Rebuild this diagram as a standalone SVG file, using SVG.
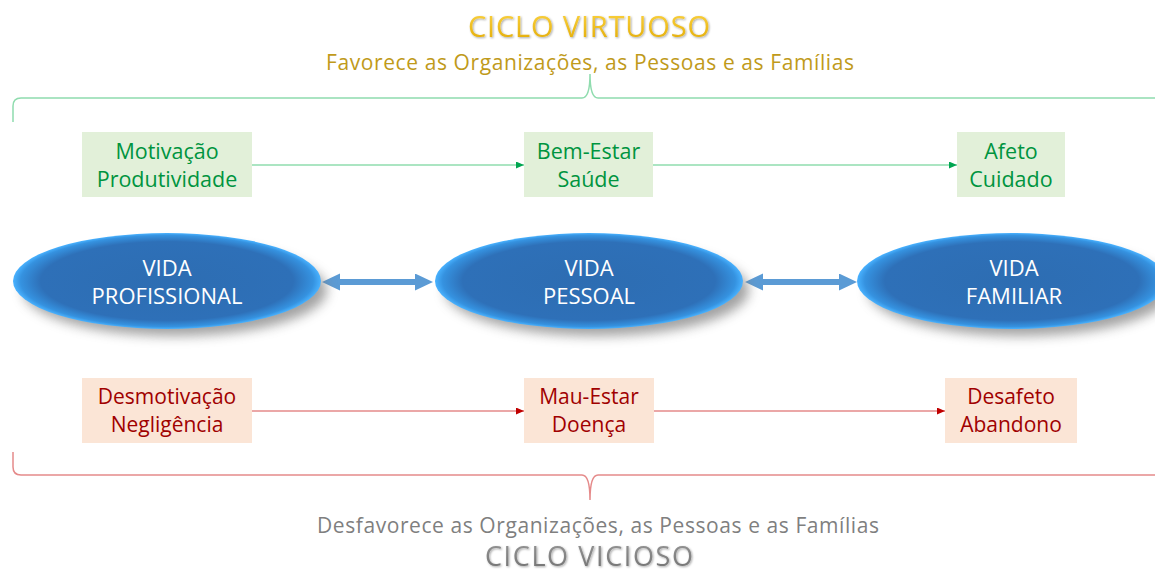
<svg xmlns="http://www.w3.org/2000/svg" width="1155" height="575" viewBox="0 0 1155 575">
<style>
  text { font-family: "Open Sans", "Noto Sans", "DejaVu Sans", sans-serif; text-anchor: middle; }
  .gbox { fill: #e2f0d9; }
  .rbox { fill: #fbe5d6; }
  .gtxt { fill: #00943f; font-size: 21.5px; }
  .rtxt { fill: #a00000; font-size: 21px; }
  .etxt { fill: #ffffff; font-size: 22px; }
  .gline { stroke: #8fdcae; stroke-width: 1.5; fill: none; }
  .rline { stroke: #e58a8a; stroke-width: 1.5; fill: none; }
  .bline { stroke: #5b9bd5; stroke-width: 6; fill: none; }
  .ell { fill: url(#ellGrad); }
  .shadow { fill: #7a7a7a; opacity: 0.7; filter: url(#blur); }
</style>
<defs>
  <radialGradient id="ellGrad" cx="0.5" cy="0.5" r="0.5">
    <stop offset="0" stop-color="#2d6db2"/>
    <stop offset="0.82" stop-color="#2e70b8"/>
    <stop offset="0.95" stop-color="#3592e0"/>
    <stop offset="1" stop-color="#49b2ff"/>
  </radialGradient>
  <linearGradient id="goldGrad" x1="0" y1="0" x2="0" y2="1">
    <stop offset="0" stop-color="#ffd84a"/>
    <stop offset="1" stop-color="#e0a800"/>
  </linearGradient>
  <linearGradient id="grayGrad" x1="0" y1="0" x2="0" y2="1">
    <stop offset="0" stop-color="#9a9a9a"/>
    <stop offset="1" stop-color="#6f6f6f"/>
  </linearGradient>
  <filter id="blur" x="-20%" y="-40%" width="140%" height="180%">
    <feGaussianBlur stdDeviation="6"/>
  </filter>
  <filter id="tshadow" x="-10%" y="-30%" width="120%" height="160%">
    <feGaussianBlur in="SourceAlpha" stdDeviation="1"/>
    <feOffset dx="0.8" dy="1" result="b"/>
    <feFlood flood-color="#000" flood-opacity="0.35"/>
    <feComposite in2="b" operator="in"/>
    <feMerge><feMergeNode/><feMergeNode in="SourceGraphic"/></feMerge>
  </filter>
  <marker id="gArrow" markerUnits="userSpaceOnUse" markerWidth="9" markerHeight="8" refX="8" refY="3.5" orient="auto">
    <path d="M0,0 L8,3.5 L0,7 Z" fill="#00a651"/>
  </marker>
  <marker id="rArrow" markerUnits="userSpaceOnUse" markerWidth="9" markerHeight="8" refX="8" refY="3.5" orient="auto">
    <path d="M0,0 L8,3.5 L0,7 Z" fill="#c00000"/>
  </marker>
  <marker id="bArrow" markerUnits="userSpaceOnUse" markerWidth="19" markerHeight="18" refX="0" refY="8.5" orient="auto-start-reverse">
    <path d="M0,0 L18,8.5 L0,17 Z" fill="#5b9bd5"/>
  </marker>
</defs>

<g id="titles">
  <text x="589" y="37" font-size="29" fill="url(#goldGrad)" filter="url(#tshadow)" textLength="242">CICLO VIRTUOSO</text>
  <text x="590" y="70" font-size="21" fill="#c09a1a" textLength="528">Favorece as Organizações, as Pessoas e as Famílias</text>
  <text x="598" y="533" font-size="21" fill="#7f7f7f" textLength="562">Desfavorece as Organizações, as Pessoas e as Famílias</text>
  <text x="589" y="566" font-size="27" fill="url(#grayGrad)" filter="url(#tshadow)" textLength="208">CICLO VICIOSO</text>
</g>

<g id="braces">
  <path class="gline" d="M13,122 L13,106 Q13,98 21,98 L582,98 Q590,98 590,74 Q590,98 598,98 L1155,98"/>
  <path class="rline" d="M13,452 L13,467 Q13,475 21,475 L582,475 Q590,475 590,500 Q590,475 598,475 L1155,475"/>
</g>

<g id="connectors">
  <line class="gline" x1="252" y1="165" x2="524" y2="165" marker-end="url(#gArrow)"/>
  <line class="gline" x1="653" y1="165" x2="957" y2="165" marker-end="url(#gArrow)"/>
  <line class="rline" x1="252" y1="411" x2="524" y2="411" marker-end="url(#rArrow)"/>
  <line class="rline" x1="654" y1="411" x2="945" y2="411" marker-end="url(#rArrow)"/>
  <line class="bline" x1="340" y1="282" x2="415" y2="282" marker-start="url(#bArrow)" marker-end="url(#bArrow)"/>
  <line class="bline" x1="763" y1="282" x2="839" y2="282" marker-start="url(#bArrow)" marker-end="url(#bArrow)"/>
</g>

<g id="motivacao">
  <rect class="gbox" x="82" y="132" width="170" height="65"/>
  <text class="gtxt" x="167" y="159">Motivação</text>
  <text class="gtxt" x="167" y="187">Produtividade</text>
</g>
<g id="bem-estar">
  <rect class="gbox" x="524" y="132" width="129" height="65"/>
  <text class="gtxt" x="588.5" y="159">Bem-Estar</text>
  <text class="gtxt" x="588.5" y="187">Saúde</text>
</g>
<g id="afeto">
  <rect class="gbox" x="957" y="132" width="108" height="65"/>
  <text class="gtxt" x="1011" y="159">Afeto</text>
  <text class="gtxt" x="1011" y="187">Cuidado</text>
</g>

<g id="vida-profissional">
  <ellipse class="shadow" cx="175" cy="290" rx="152" ry="46"/>
  <ellipse class="ell" cx="167" cy="281" rx="154" ry="48"/>
  <text class="etxt" x="167" y="276">VIDA</text>
  <text class="etxt" x="167" y="304">PROFISSIONAL</text>
</g>
<g id="vida-pessoal">
  <ellipse class="shadow" cx="597" cy="290" rx="152" ry="46"/>
  <ellipse class="ell" cx="589" cy="281" rx="154" ry="48"/>
  <text class="etxt" x="589" y="276">VIDA</text>
  <text class="etxt" x="589" y="304">PESSOAL</text>
</g>
<g id="vida-familiar">
  <ellipse class="shadow" cx="1020" cy="290" rx="152" ry="46"/>
  <ellipse class="ell" cx="1012" cy="281" rx="155" ry="48"/>
  <text class="etxt" x="1014" y="276">VIDA</text>
  <text class="etxt" x="1014" y="304">FAMILIAR</text>
</g>

<g id="desmotivacao">
  <rect class="rbox" x="82" y="378" width="170" height="65"/>
  <text class="rtxt" x="167" y="404">Desmotivação</text>
  <text class="rtxt" x="167" y="432">Negligência</text>
</g>
<g id="mau-estar">
  <rect class="rbox" x="524" y="378" width="130" height="65"/>
  <text class="rtxt" x="589" y="404">Mau-Estar</text>
  <text class="rtxt" x="589" y="432">Doença</text>
</g>
<g id="desafeto">
  <rect class="rbox" x="945" y="378" width="132" height="65"/>
  <text class="rtxt" x="1011" y="404">Desafeto</text>
  <text class="rtxt" x="1011" y="432">Abandono</text>
</g>
</svg>
